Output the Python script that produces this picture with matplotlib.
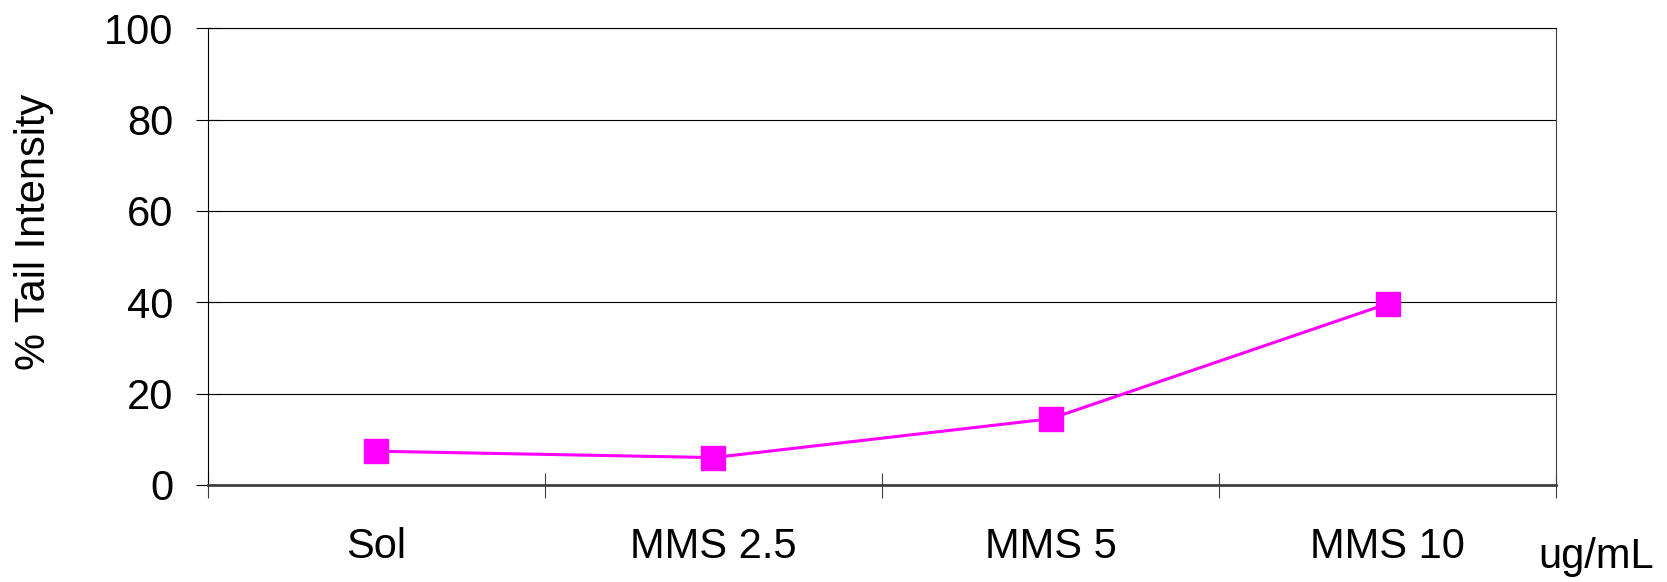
import matplotlib
matplotlib.use("Agg")
import matplotlib.pyplot as plt
from matplotlib.ticker import FixedLocator

# Comet assay: % tail intensity by treatment
categories = ["Sol", "MMS 2.5", "MMS 5", "MMS 10"]
tail_intensity = [7.4, 6.0, 14.5, 39.7]
y_ticks = [0, 20, 40, 60, 80, 100]
unit_label = "ug/mL"
y_label = "% Tail Intensity"

plt.rcParams["font.family"] = ["Liberation Sans", "DejaVu Sans"]

fig = plt.figure(figsize=(16.67, 5.82), dpi=100)
ax = fig.add_axes([0.1246, 0.1667, 0.8090, 0.7847])

x = list(range(len(categories)))
ax.plot(x, tail_intensity, color="#FF00FF", lw=2.2, marker="s",
        markersize=17, markerfacecolor="#FF00FF", markeredgecolor="#FF00FF",
        markeredgewidth=1, zorder=3, solid_joinstyle="round")

ax.set_xlim(-0.5, len(categories) - 0.5)
ax.set_ylim(0, 100)

# y axis: ticks and gridlines
ax.set_yticks(y_ticks)
ax.set_yticklabels([str(v) for v in y_ticks])
ax.yaxis.grid(True, color="black", lw=0.8)
ax.set_axisbelow(True)
ax.tick_params(axis="y", direction="inout", length=18, width=0.8,
               labelsize=30, pad=15.5, color="black")

# x axis: category labels centred, ticks on category boundaries
ax.xaxis.set_major_locator(FixedLocator([i - 0.5 for i in range(len(categories) + 1)]))
ax.xaxis.set_minor_locator(FixedLocator(x))
ax.set_xticklabels([""] * (len(categories) + 1))
ax.set_xticklabels(categories, minor=True)
ax.tick_params(axis="x", which="major", direction="inout", length=18,
               width=0.8, color="#404040")
ax.tick_params(axis="x", which="minor", length=0, labelsize=30, pad=30)

for side in ["left", "top"]:
    ax.spines[side].set_color("black")
    ax.spines[side].set_linewidth(0.8)
ax.spines["right"].set_color("#404040")
ax.spines["right"].set_linewidth(0.8)
ax.spines["bottom"].set_color("#404040")
ax.spines["bottom"].set_linewidth(2)

ax.text(-0.1288, 0.554, y_label, transform=ax.transAxes, rotation=90,
        ha="center", va="center", fontsize=30)
fig.text(1538 / 1667, 1 - 568 / 582, unit_label, ha="left", va="baseline",
         fontsize=30)

fig.savefig("out.png", dpi=100)
